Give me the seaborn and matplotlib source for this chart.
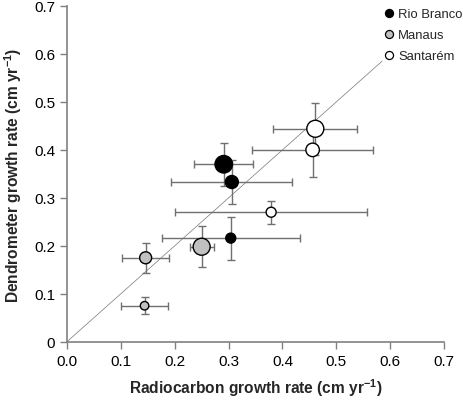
import numpy as np
import pandas as pd
import matplotlib
matplotlib.use("Agg")
import matplotlib.pyplot as plt
from matplotlib.lines import Line2D
import seaborn as sns

# data
site = ["Rio Branco", "Rio Branco", "Rio Branco",
        "Manaus", "Manaus", "Manaus",
        "Santarém", "Santarém", "Santarém"]
radiocarbon = [0.291, 0.306, 0.304, 0.146, 0.144, 0.250, 0.461, 0.456, 0.379]
radiocarbon_err = [0.055, 0.112, 0.128, 0.043, 0.044, 0.022, 0.078, 0.112, 0.178]
dendrometer = [0.370, 0.333, 0.216, 0.175, 0.075, 0.198, 0.444, 0.400, 0.270]
dendrometer_err = [0.045, 0.045, 0.045, 0.031, 0.018, 0.043, 0.054, 0.057, 0.024]
marker_size = [17.5, 13, 10, 12, 8.5, 17, 17, 13.5, 10]   # diameters in px

df = pd.DataFrame({
    "site": site,
    "radiocarbon": radiocarbon,
    "rc_err": radiocarbon_err,
    "dendrometer": dendrometer,
    "dd_err": dendrometer_err,
    "msize": marker_size,
})

colors = {"Rio Branco": "black", "Manaus": "#c0c0c0", "Santarém": "white"}

sns.set_style("ticks")
plt.rcParams["font.family"] = ["Liberation Sans", "DejaVu Sans"]
plt.rcParams["mathtext.default"] = "regular"

fig = plt.figure(figsize=(4.64, 4.02), dpi=100)
ax = fig.add_axes([0.1444, 0.1475, 0.8126, 0.8351])

# 1:1 line
ax.plot([0, 0.585], [0, 0.585], color="#777777", lw=0.5, zorder=1)

# error bars
ax.errorbar(df["radiocarbon"], df["dendrometer"], xerr=df["rc_err"], yerr=df["dd_err"],
            fmt="none", ecolor="#707070", elinewidth=1.0, capsize=3, capthick=1.0, zorder=2)

# points (size in points^2 from px diameter at 100 dpi)
sizes = (df["msize"] * 72 / 100) ** 2
sns.scatterplot(data=df, x="radiocarbon", y="dendrometer", hue="site", palette=colors,
                s=sizes, edgecolor="black", linewidth=1.0, legend=False, ax=ax, zorder=3)

ax.set_xlim(0, 0.7)
ax.set_ylim(0, 0.7)
ax.set_xticks(np.arange(0, 0.71, 0.1))
ax.set_xticklabels([f"{v:.1f}" for v in np.arange(0, 0.71, 0.1)])
ax.set_yticks(np.arange(0, 0.71, 0.1))
ax.set_yticklabels(["0"] + [f"{v:.1f}" for v in np.arange(0.1, 0.71, 0.1)])

for sp in ["top", "right"]:
    ax.spines[sp].set_visible(False)
for sp in ["left", "bottom"]:
    ax.spines[sp].set_color("#808080")
    ax.spines[sp].set_linewidth(1.2)
ax.tick_params(axis="both", colors="#808080", labelcolor="black", labelsize=11,
               length=5, width=1.0, direction="out")

ax.set_xlabel("Radiocarbon growth rate (cm yr$^{-1}$)", fontsize=11.2, fontweight="bold", labelpad=6)
ax.set_ylabel("Dendrometer growth rate (cm yr$^{-1}$)", fontsize=11.2, fontweight="bold", labelpad=7)

handles = [Line2D([0], [0], marker="o", linestyle="none", markerfacecolor=colors[s],
                  markeredgecolor="black", markersize=5.8, markeredgewidth=0.9, label=s)
           for s in ["Rio Branco", "Manaus", "Santarém"]]
ax.legend(handles=handles, loc="upper left", bbox_to_anchor=(0.838, 0.993), frameon=False,
          fontsize=9.4, handlelength=0.9, handletextpad=0.25, labelspacing=0.67,
          borderaxespad=0, borderpad=0)

fig.savefig("out.png", dpi=100)
